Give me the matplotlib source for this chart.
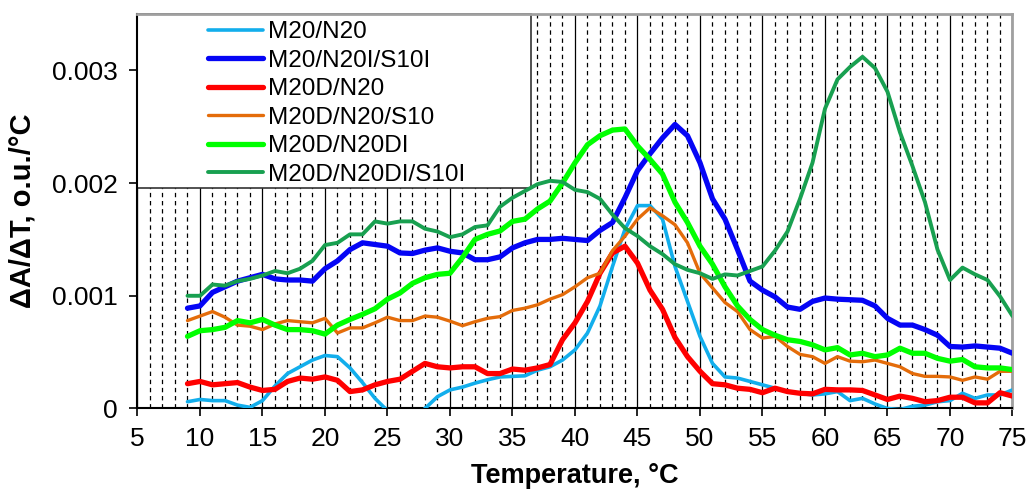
import matplotlib
matplotlib.use('Agg')
import matplotlib.pyplot as plt
from matplotlib.patches import Rectangle
from matplotlib.ticker import MultipleLocator

plt.rcParams['font.family'] = ['Liberation Sans', 'DejaVu Sans']

# Температура, °C
temps = [9, 10, 11, 12, 13, 14, 15, 16, 17, 18,
         19, 20, 21, 22, 23, 24, 25, 26, 27, 28,
         29, 30, 31, 32, 33, 34, 35, 36, 37, 38,
         39, 40, 41, 42, 43, 44, 45, 46, 47, 48,
         49, 50, 51, 52, 53, 54, 55, 56, 57, 58,
         59, 60, 61, 62, 63, 64, 65, 66, 67, 68,
         69, 70, 71, 72, 73, 74, 75]

# dA/dT, в единицах 0.001 o.u./°C
m20_n20 = [0.06, 0.08, 0.07, 0.07, 0.03, 0.01, 0.07, 0.20, 0.31, 0.37,
           0.43, 0.47, 0.46, 0.36, 0.23, 0.09, -0.02, -0.10, -0.10, 0.00,
           0.105, 0.165, 0.19, 0.225, 0.255, 0.28, 0.285, 0.29, 0.34, 0.37,
           0.43, 0.52, 0.67, 0.91, 1.26, 1.59, 1.80, 1.80, 1.68, 1.26,
           0.95, 0.64, 0.40, 0.28, 0.27, 0.24, 0.21, 0.18, 0.15, 0.135,
           0.12, 0.13, 0.15, 0.07, 0.09, 0.04, 0.00, -0.01, 0.02, 0.03,
           0.06, 0.07, 0.135, 0.09, 0.12, 0.12, 0.165]
m20_n20i_s10i = [0.89, 0.91, 1.03, 1.08, 1.13, 1.16, 1.19, 1.15, 1.14, 1.14,
                 1.13, 1.24, 1.31, 1.41, 1.47, 1.455, 1.44, 1.38, 1.375, 1.405,
                 1.425, 1.395, 1.38, 1.32, 1.32, 1.345, 1.425, 1.47, 1.50, 1.50,
                 1.51, 1.50, 1.49, 1.58, 1.65, 1.87, 2.11, 2.26, 2.40, 2.52,
                 2.42, 2.18, 1.86, 1.68, 1.41, 1.13, 1.05, 0.99, 0.90, 0.88,
                 0.95, 0.98, 0.97, 0.965, 0.96, 0.91, 0.80, 0.74, 0.74, 0.70,
                 0.65, 0.55, 0.545, 0.555, 0.545, 0.535, 0.49]
m20d_n20 = [0.22, 0.24, 0.21, 0.22, 0.23, 0.19, 0.16, 0.17, 0.24, 0.27,
            0.26, 0.28, 0.25, 0.15, 0.165, 0.21, 0.24, 0.26, 0.33, 0.40,
            0.37, 0.36, 0.37, 0.37, 0.31, 0.31, 0.35, 0.34, 0.36, 0.39,
            0.61, 0.76, 0.95, 1.20, 1.38, 1.44, 1.29, 1.05, 0.88, 0.63,
            0.46, 0.33, 0.22, 0.21, 0.18, 0.17, 0.14, 0.18, 0.15, 0.135,
            0.13, 0.17, 0.165, 0.165, 0.16, 0.12, 0.08, 0.11, 0.09, 0.06,
            0.07, 0.10, 0.10, 0.05, 0.05, 0.14, 0.11]
m20d_n20_s10 = [0.78, 0.82, 0.86, 0.81, 0.74, 0.73, 0.70, 0.75, 0.78, 0.77,
                0.76, 0.80, 0.67, 0.715, 0.715, 0.76, 0.81, 0.78, 0.78, 0.82,
                0.81, 0.775, 0.735, 0.77, 0.80, 0.815, 0.87, 0.89, 0.92, 0.97,
                1.01, 1.08, 1.16, 1.20, 1.40, 1.53, 1.68, 1.78, 1.71, 1.63,
                1.47, 1.20, 1.07, 0.94, 0.86, 0.70, 0.625, 0.64, 0.55, 0.48,
                0.46, 0.40, 0.46, 0.42, 0.415, 0.43, 0.40, 0.37, 0.31, 0.285,
                0.285, 0.28, 0.25, 0.28, 0.26, 0.33, 0.33]
m20d_n20di = [0.64, 0.69, 0.70, 0.72, 0.78, 0.76, 0.79, 0.74, 0.70, 0.70,
              0.69, 0.66, 0.74, 0.79, 0.835, 0.885, 0.97, 1.025, 1.11, 1.16,
              1.19, 1.20, 1.34, 1.50, 1.545, 1.575, 1.66, 1.68, 1.77, 1.84,
              2.00, 2.18, 2.34, 2.42, 2.47, 2.48, 2.33, 2.21, 2.08, 1.83,
              1.65, 1.44, 1.28, 1.08, 0.91, 0.79, 0.70, 0.65, 0.61, 0.595,
              0.565, 0.52, 0.54, 0.475, 0.49, 0.46, 0.475, 0.535, 0.49, 0.49,
              0.445, 0.42, 0.435, 0.37, 0.36, 0.36, 0.345]
m20d_n20di_s10i = [1.00, 1.00, 1.10, 1.09, 1.13, 1.15, 1.18, 1.22, 1.20, 1.24,
                   1.31, 1.45, 1.47, 1.545, 1.545, 1.66, 1.64, 1.66, 1.66, 1.595,
                   1.57, 1.52, 1.545, 1.61, 1.625, 1.79, 1.87, 1.93, 1.99, 2.02,
                   2.01, 1.94, 1.92, 1.86, 1.72, 1.60, 1.53, 1.44, 1.37, 1.28,
                   1.23, 1.20, 1.15, 1.19, 1.18, 1.22, 1.26, 1.40, 1.57, 1.86,
                   2.18, 2.66, 2.92, 3.03, 3.12, 3.02, 2.81, 2.45, 2.15, 1.83,
                   1.41, 1.14, 1.25, 1.19, 1.14, 0.995, 0.82]

labels = ['M20/N20', 'M20/N20I/S10I', 'M20D/N20', 'M20D/N20/S10',
          'M20D/N20DI', 'M20D/N20DI/S10I']
x_ticks = [5, 10, 15, 20, 25, 30, 35, 40, 45, 50, 55, 60, 65, 70, 75]
y_ticks = [0, 0.001, 0.002, 0.003]
y_tick_labels = ['0', '0.001', '0.002', '0.003']

series = [m20_n20, m20_n20i_s10i, m20d_n20, m20d_n20_s10, m20d_n20di, m20d_n20di_s10i]
colors = ['#12AEEC', '#0505F5', '#FF0000', '#E46C0A', '#00FF00', '#18A050']
widths = [2.6, 3.8, 3.8, 2.4, 3.8, 2.8]

fig = plt.figure(figsize=(10.28, 4.9), dpi=100)
ax = fig.add_axes([0.13375, 0.16633, 0.85117, 0.80510])

for lab, vals, col, lw in zip(labels, series, colors, widths):
    ax.plot(temps, [v * 0.001 for v in vals], color=col, lw=lw, label=lab,
            solid_joinstyle='round', solid_capstyle='round', zorder=3)

ax.set_xlim(5, 75)
ax.set_ylim(0, 0.0035)
ax.set_xticks(x_ticks)
ax.xaxis.set_minor_locator(MultipleLocator(1))
ax.set_yticks(y_ticks)
ax.set_yticklabels(y_tick_labels)

# сетка: сплошные через 5 °C, пунктир через 1 °C
ax.set_axisbelow(True)
ax.grid(axis='x', which='major', color='black', lw=0.9, ls='-')
ax.grid(axis='x', which='minor', color='black', lw=0.9, ls=(0, (3.5, 3)))
ax.tick_params(axis='x', which='minor', length=0)
ax.tick_params(which='major', direction='out', length=6, width=1.2)
ax.tick_params(axis='x', labelsize=19, pad=7)
ax.tick_params(axis='y', labelsize=19, pad=8)

for s in ['left', 'bottom']:
    ax.spines[s].set_color('black')
    ax.spines[s].set_linewidth(1.5)
for s in ['top', 'right']:
    ax.spines[s].set_color('#A0A0A0')
    ax.spines[s].set_linewidth(2)

# белая подложка легенды в левом верхнем углу
ax.add_patch(Rectangle((0, 0.559), 0.4497, 0.441, transform=ax.transAxes,
                       facecolor='white', edgecolor='#333333', lw=1.2,
                       zorder=2, clip_on=False))
ax.legend(loc='upper left', bbox_to_anchor=(0.0806, 0.982), frameon=False,
          fontsize=17.5, handlelength=2.25, handletextpad=0.2, labelspacing=0.27,
          borderpad=0, borderaxespad=0)

ax.set_xlabel('Temperature, °C', fontsize=19.5, fontweight='bold')
ax.xaxis.set_label_coords(0.5, -0.137)
ax.set_ylabel('ΔA/ΔT, o.u./°C', fontsize=21, fontweight='bold')
ax.yaxis.set_label_coords(-0.115, 0.5)

fig.savefig('out.png', dpi=100)
